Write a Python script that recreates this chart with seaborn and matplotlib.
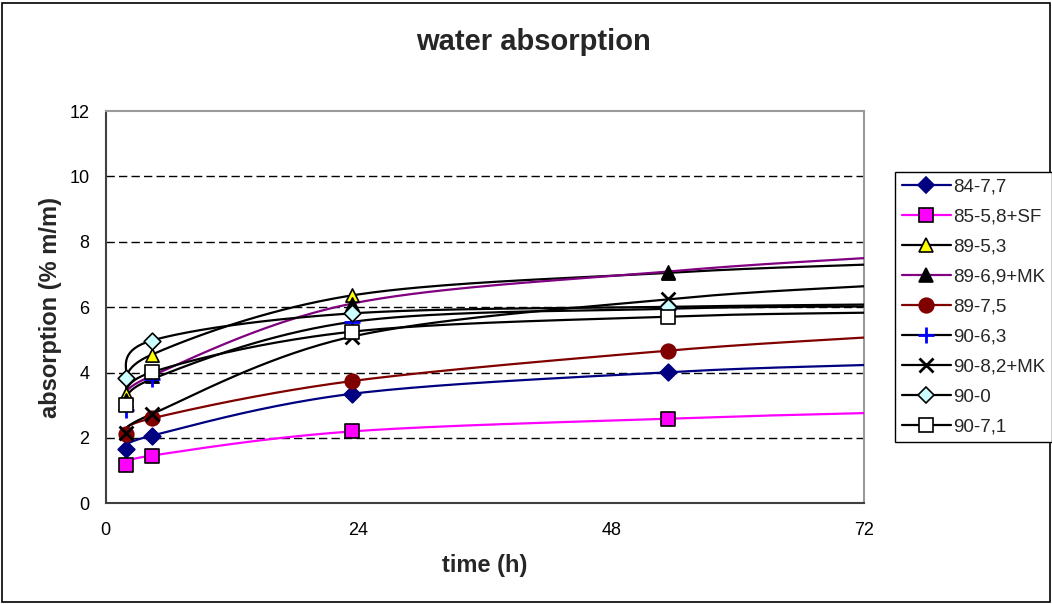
import numpy as np
import pandas as pd
import seaborn as sns
import matplotlib.pyplot as plt
from matplotlib.lines import Line2D
from matplotlib.patches import Rectangle

# measuring times (h); the last value is where the curves leave the plot
times = [1.9, 4.4, 23.4, 53.4, 72.0]

series_names = ["84-7,7", "85-5,8+SF", "89-5,3", "89-6,9+MK", "89-7,5",
                "90-6,3", "90-8,2+MK", "90-0", "90-7,1"]
s_84_77 = [1.65, 2.07, 3.35, 4.01, 4.23]
s_85_58sf = [1.18, 1.46, 2.20, 2.59, 2.76]
s_89_53 = [3.35, 4.55, 6.36, 7.05, 7.30]
s_89_69mk = [3.15, 3.90, 6.11, 7.09, 7.50]
s_89_75 = [2.12, 2.60, 3.74, 4.67, 5.07]
s_90_63 = [2.85, 3.80, 5.55, 5.95, 6.02]
s_90_82mk = [2.15, 2.73, 5.10, 6.24, 6.64]
s_90_0 = [3.82, 4.98, 5.81, 6.01, 6.08]
s_90_71 = [3.01, 4.01, 5.25, 5.71, 5.83]
values = [s_84_77, s_85_58sf, s_89_53, s_89_69mk, s_89_75,
          s_90_63, s_90_82mk, s_90_0, s_90_71]

# style: line colour, marker, marker face, marker edge, marker size
styles = [
    ("#000080", "D", "#000080", "#000080", 8.5),
    ("#FF00FF", "s", "#FF00FF", "black", 9.5),
    ("black", "^", "#FFFF00", "black", 9.5),
    ("#800080", "^", "black", "black", 9.5),
    ("#800000", "o", "#800000", "#800000", 10.5),
    ("black", "+", "#0000FF", "#0000FF", 11),
    ("black", "x", "black", "black", 10),
    ("black", "D", "#CCFFFF", "black", 8.5),
    ("black", "s", "white", "black", 10.5),
]


def smooth(xs, ys, n=40):
    # Excel-like smoothed line: Catmull-Rom bezier in screen-ish units
    sx, sy = 10.5, 33.0
    p = np.column_stack([np.array(xs) * sx, np.array(ys) * sy])
    p = np.vstack([p[0], p, p[-1]])
    out = []
    t = np.linspace(0, 1, n)
    for i in range(1, len(p) - 2):
        p0, p3 = p[i], p[i + 1]
        c1 = p0 + (p[i + 1] - p[i - 1]) / 6
        c2 = p3 - (p[i + 2] - p[i]) / 6
        seg = ((1 - t) ** 3)[:, None] * p0 + (3 * (1 - t) ** 2 * t)[:, None] * c1 \
            + (3 * (1 - t) * t ** 2)[:, None] * c2 + (t ** 3)[:, None] * p3
        out.append(seg)
    out = np.vstack(out)
    return out[:, 0] / sx, out[:, 1] / sy


sns.set_style("white")
plt.rcParams["font.family"] = ["Liberation Sans", "DejaVu Sans"]

fig = plt.figure(figsize=(10.52, 6.04), dpi=100)
ax = fig.add_axes([0.1003, 0.1667, 0.7210, 0.6495])

handles = []
for name, ys, (lc, mk, fc, ec, ms) in zip(series_names, values, styles):
    cx, cy = smooth(times, ys)
    curve = pd.DataFrame({"x": cx, "y": cy})
    sns.lineplot(data=curve, x="x", y="y", ax=ax, color=lc, lw=1.6,
                 sort=False, estimator=None, legend=False, zorder=3)
    pts = pd.DataFrame({"x": times[:4], "y": ys[:4]})
    lw = 2.0 if mk in ("+", "x") else 1.2
    sns.scatterplot(data=pts, x="x", y="y", ax=ax, marker=mk, s=ms ** 2,
                    color=fc, edgecolor=ec, linewidth=lw, legend=False,
                    zorder=4)
    handles.append(Line2D([], [], color=lc, lw=1.6, marker=mk, markersize=ms,
                          markerfacecolor=fc, markeredgecolor=ec,
                          markeredgewidth=lw))

ax.set_xlim(0, 72)
ax.set_ylim(0, 12)
ax.set_xticks([0, 24, 48, 72])
ax.set_yticks([0, 2, 4, 6, 8, 10, 12])
for g in [2, 4, 6, 8, 10]:
    ax.axhline(g, color="black", lw=1, ls=(0, (6, 3)), zorder=1)

for side in ["left", "bottom"]:
    ax.spines[side].set_color("#404040")
    ax.spines[side].set_linewidth(1.5)
for side in ["top", "right"]:
    ax.spines[side].set_color("#9a9a9a")
    ax.spines[side].set_linewidth(1.5)

ax.tick_params(axis="both", direction="inout", length=7, width=1,
               labelsize=13, colors="black", pad=8)
ax.tick_params(axis="x", pad=10)

ax.set_xlabel("time (h)", fontsize=17, fontweight="bold", labelpad=11)
ax.set_ylabel("absorption (% m/m)", fontsize=17, fontweight="bold", labelpad=5)
fig.text(0.5067, 0.93, "water absorption", ha="center", va="center",
         fontsize=21, fontweight="bold")

leg = fig.legend(handles, series_names, loc="upper left",
                 bbox_to_anchor=(0.851, 0.716), fontsize=13.5,
                 frameon=True, fancybox=False, edgecolor="black",
                 framealpha=1, handlelength=2.6, labelspacing=0.69,
                 borderpad=0.35, handletextpad=0.15, borderaxespad=0)
leg.get_frame().set_linewidth(1)

fig.patches.append(Rectangle((2 / 1052, 2 / 604), 1048 / 1052, 599 / 604,
                             transform=fig.transFigure, fill=False,
                             ec="black", lw=1.2))

fig.savefig("out.png", dpi=100)
